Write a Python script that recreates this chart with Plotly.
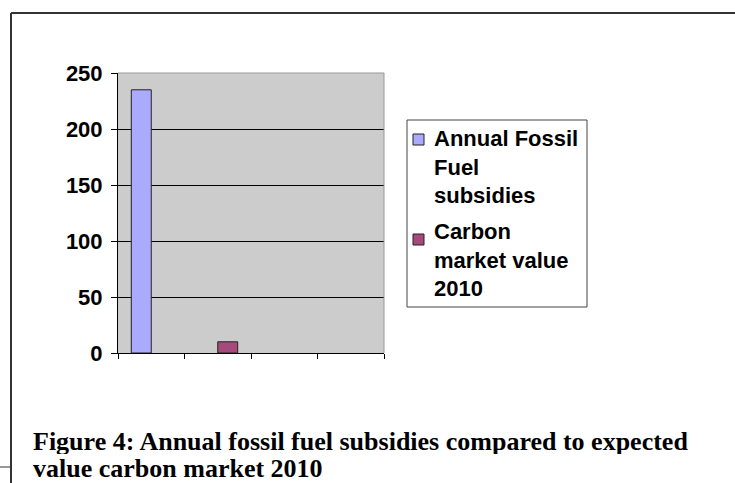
import plotly.graph_objects as go

# ---- data ----
categories = ["1", "2", "3", "4"]
series_names = ["Annual Fossil<br>Fuel<br>subsidies", "Carbon<br>market value<br>2010"]
fossil_subsidies = [235, None, None, None]
carbon_market = [None, 10, None, None]
y_ticks = [0, 50, 100, 150, 200, 250]
caption_lines = ["Figure 4: Annual fossil fuel subsidies compared to expected",
                 "value carbon market 2010"]

# ---- style ----
W, H = 735, 483
L, R, T, B = 118, 351, 73, 130
PW, PH = W - L - R, H - T - B
colors = ["#AAAAFF", "#A64A7B"]
sans = "Liberation Sans, Arial, sans-serif"
serif = "Liberation Serif, Times New Roman, serif"


def px(x):
    return (x - L) / PW


def py(y):
    return (H - B - y) / PH


fig = go.Figure()
for name, vals, col in zip(series_names, [fossil_subsidies, carbon_market], colors):
    fig.add_trace(go.Bar(x=categories, y=vals, name=name, showlegend=False,
                         marker=dict(color=col, line=dict(color="#222222", width=1))))

fig.update_layout(
    width=W, height=H, margin=dict(l=L, r=R, t=T, b=B, pad=0),
    paper_bgcolor="white", plot_bgcolor="#CCCCCC",
    barmode="group", bargap=0.4, bargroupgap=0,
    font=dict(family=sans, size=22, color="black"),
    xaxis=dict(type="category", categoryarray=categories, categoryorder="array",
               showticklabels=False, ticks="outside", ticklen=5,
               tickson="boundaries", tickcolor="black", showline=True, linecolor="black",
               linewidth=1, showgrid=False, zeroline=False),
    yaxis=dict(range=[0, 250], tickvals=y_ticks, ticks="outside", ticklen=6,
               tickcolor="black", showline=True, linecolor="black", linewidth=1,
               showgrid=True, gridcolor="black", gridwidth=1, zeroline=False,
               tickfont=dict(family=sans, size=22, weight="bold"), ticklabelstandoff=4),
)

shapes = []
# plot area border (top & right)
shapes.append(dict(type="line", xref="paper", yref="paper", x0=0, x1=1, y0=1, y1=1,
                   line=dict(color="#999999", width=1), layer="above"))
shapes.append(dict(type="line", xref="paper", yref="paper", x0=1, x1=1, y0=0, y1=1,
                   line=dict(color="#999999", width=1), layer="above"))
# outer frame
shapes.append(dict(type="line", xref="paper", yref="paper", x0=px(11), x1=px(736), y0=py(13), y1=py(13),
                   line=dict(color="#333333", width=2)))
shapes.append(dict(type="line", xref="paper", yref="paper", x0=px(11), x1=px(11), y0=py(13), y1=py(484),
                   line=dict(color="#333333", width=2)))
shapes.append(dict(type="line", xref="paper", yref="paper", x0=px(0), x1=px(11), y0=py(467), y1=py(467),
                   line=dict(color="#333333", width=1)))
# legend box
shapes.append(dict(type="rect", xref="paper", yref="paper", x0=px(407), x1=px(587), y0=py(120), y1=py(307),
                   line=dict(color="#444444", width=1), fillcolor="white"))
annotations = []
legend_marker_tops = [134, 234]
legend_text_mid = [167, 260]
for name, col, mt, tm in zip(series_names, colors, legend_marker_tops, legend_text_mid):
    shapes.append(dict(type="rect", xref="paper", yref="paper", x0=px(413), x1=px(424),
                       y0=py(mt), y1=py(mt + 11), line=dict(color="#222222", width=1), fillcolor=col))
    annotations.append(dict(xref="paper", yref="paper", x=px(432), y=py(tm), xanchor="left",
                            yanchor="middle", align="left", showarrow=False, text=name,
                            font=dict(family=sans, size=22, weight="bold", color="black")))
# caption
for line, mid_y in zip(caption_lines, [441, 468]):
    annotations.append(dict(xref="paper", yref="paper", x=px(31), y=py(mid_y), xanchor="left",
                            yanchor="middle", align="left", valign="middle", height=26,
                            showarrow=False, text=line,
                            font=dict(family=serif, size=26, weight="bold", color="black")))

fig.update_layout(shapes=shapes, annotations=annotations)
fig.write_html("out.html")
